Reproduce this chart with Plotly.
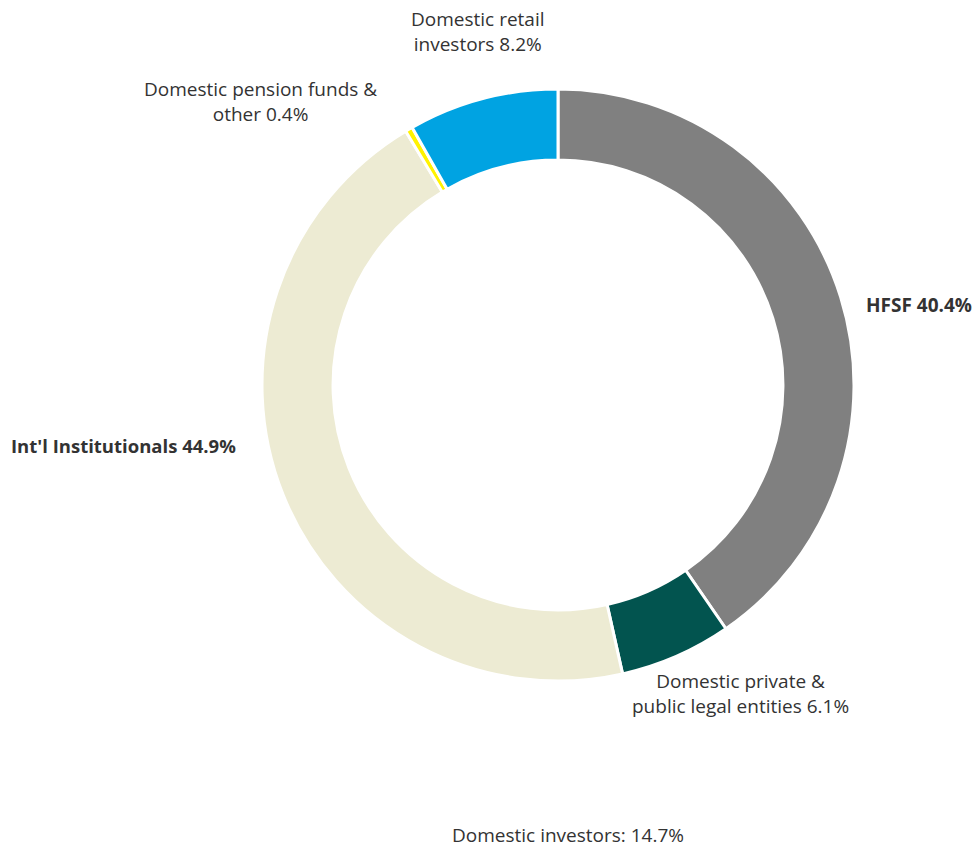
import plotly.graph_objects as go

categories = ["HFSF", "Domestic private & public legal entities", "Int'l Institutionals",
              "Domestic pension funds & other", "Domestic retail investors"]
values = [40.4, 6.1, 44.9, 0.4, 8.2]
colors = ["#808080", "#02544F", "#EDEBD3", "#FFF200", "#00A3E2"]
label_texts = ["<b>HFSF 40.4%</b>",
               "Domestic private &<br>public legal entities 6.1%",
               "<b>Int'l Institutionals 44.9%</b>",
               "Domestic pension funds &<br>other 0.4%",
               "Domestic retail<br>investors 8.2%"]
domestic_total = round(values[1] + values[3] + values[4], 1)

W, H = 976, 854
cx, cy, R = 558, 385, 296

fig = go.Figure(go.Pie(
    labels=categories, values=values, sort=False, direction="clockwise", rotation=0,
    hole=0.76, textinfo="none", hoverinfo="skip",
    marker=dict(colors=colors, line=dict(color="white", width=3)),
    domain=dict(x=[(cx - R) / W, (cx + R) / W], y=[(H - cy - R) / H, (H - cy + R) / H]),
    showlegend=False,
))

# label positions in pixels (x, y center, anchor, font size)
pos = [(864, 305, "left", 19), (740, 693, "center", 19), (9, 445, "left", 18.5),
       (260, 101, "center", 19), (478, 31, "center", 19)]
for txt, (x, y, anc, fs) in zip(label_texts, pos):
    fig.add_annotation(x=x / W, y=1 - y / H, xref="paper", yref="paper", text=txt,
                       showarrow=False, xanchor=anc, yanchor="middle", align="center",
                       font=dict(size=fs, color="#333333", family="Open Sans"))

fig.add_annotation(x=568 / W, y=1 - 835 / H, xref="paper", yref="paper",
                   text=f"Domestic investors: {domestic_total}%", showarrow=False,
                   xanchor="center", yanchor="middle",
                   font=dict(size=19, color="#333333", family="Open Sans"))

fig.update_layout(width=W, height=H, margin=dict(l=0, r=0, t=0, b=0),
                  paper_bgcolor="white", plot_bgcolor="white")
fig.write_html("out.html")
